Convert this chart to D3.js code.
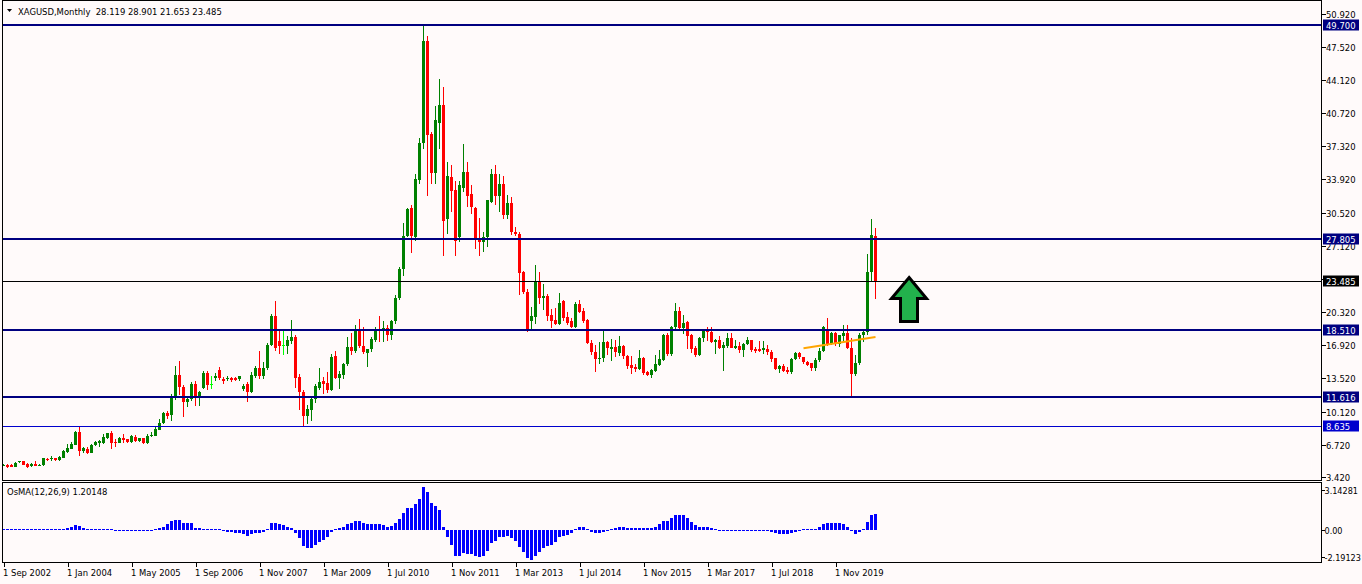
<!DOCTYPE html>
<html><head><meta charset="utf-8">
<script src="https://cdn.jsdelivr.net/npm/d3@7"></script>
<style>
html,body{margin:0;padding:0;background:#fffafa;}
svg{display:block;}
text{font-family:"DejaVu Sans Condensed","DejaVu Sans",sans-serif;font-stretch:condensed;font-size:9.4px;fill:#000;}
</style></head><body>
<svg id="c" width="1362" height="584"></svg>
<script>
// ---------- DATA ----------
const symbolTitle = "XAGUSD,Monthly  28.119 28.901 21.653 23.485";
const indicatorTitle = "OsMA(12,26,9) 1.20148";

const opens = [4.55,4.62,4.66,4.48,4.90,5.03,4.79,4.55,4.72,4.60,4.62,5.30,5.24,5.34,5.17,5.37,5.99,6.33,6.71,8.04,
6.09,6.33,5.92,6.67,6.88,6.88,7.36,7.87,7.02,6.88,7.43,7.26,6.95,7.53,7.12,7.36,6.85,7.63,7.63,8.25,
8.93,9.93,9.76,11.74,13.86,12.60,11.05,11.40,12.94,11.57,12.53,14.07,12.97,13.59,14.37,13.45,13.50,13.55,13.55,13.48,
12.46,12.90,12.08,13.72,14.58,13.72,14.58,16.90,19.95,17.35,16.97,16.87,17.38,17.79,13.69,12.08,9.68,10.30,11.40,12.50,
13.28,13.04,12.35,15.85,13.52,13.86,15.00,16.70,16.30,18.48,16.87,16.10,16.50,17.50,18.50,18.40,18.70,18.00,19.37,21.80,
24.74,28.10,30.97,28.00,33.90,37.68,48.08,38.60,34.60,39.70,41.58,29.87,34.15,32.85,27.99,33.06,34.67,32.44,31.00,27.89,
27.55,27.99,31.59,34.50,32.27,33.47,30.32,31.52,28.57,28.33,24.40,22.42,19.44,19.85,23.54,21.73,22.00,20.00,19.50,19.10,
21.46,19.85,19.44,18.75,21.15,20.46,19.54,17.10,16.20,15.50,15.60,17.30,16.53,16.77,16.12,16.84,15.85,14.92,14.72,14.48,
15.60,14.20,13.86,14.30,14.89,15.40,18.00,16.02,18.82,20.40,18.65,19.34,18.00,16.60,15.95,17.66,18.41,18.24,17.28,17.49,
16.63,16.80,17.66,16.63,16.84,16.43,17.00,17.45,16.53,16.53,16.43,16.53,16.26,15.57,14.48,14.82,14.37,14.20,15.50,16.12,
15.67,15.23,15.09,14.61,15.40,16.29,18.41,17.00,18.17,17.03,17.90,18.17,16.60,13.96,15.09,17.97,18.24,24.47,28.119];

const highs = [4.72,4.70,4.72,4.95,5.10,5.10,4.85,4.85,5.05,4.70,5.40,5.35,5.55,5.40,5.60,6.20,6.75,7.00,8.15,8.49,
6.45,6.45,6.80,7.15,7.20,7.80,7.95,8.15,7.30,7.50,7.80,7.35,7.70,7.70,7.40,7.45,7.80,8.05,8.50,9.35,
10.05,10.20,11.90,14.82,15.33,12.80,11.74,13.10,13.28,12.25,14.30,14.28,13.80,14.10,14.65,13.62,13.80,13.62,13.65,13.80,
12.90,13.20,14.15,14.80,16.29,15.20,17.10,20.10,21.45,18.35,18.35,17.90,19.50,18.00,14.00,12.30,10.75,11.50,12.90,14.55,
13.62,14.20,16.00,16.30,14.30,15.10,17.73,18.17,19.03,19.60,18.80,16.55,17.75,18.75,19.95,19.45,19.00,19.50,22.10,24.90,
29.46,30.95,31.31,34.50,38.19,49.80,48.60,38.80,41.44,44.25,43.39,35.69,35.42,33.74,33.74,37.57,35.69,33.30,31.10,29.94,
28.51,31.80,35.00,35.40,34.50,34.30,32.30,32.10,29.02,28.50,24.50,22.70,20.80,25.15,24.47,23.20,22.18,20.63,20.70,22.28,
21.60,20.36,19.70,21.32,21.60,20.70,19.60,17.50,16.90,17.30,18.58,17.40,17.56,17.45,17.90,16.90,15.90,15.85,15.00,16.43,
15.70,14.30,14.50,15.90,16.43,18.10,18.20,18.90,21.25,20.81,20.00,19.44,18.10,16.80,17.80,18.58,18.75,18.75,17.60,17.90,
17.20,18.20,18.20,17.50,17.30,17.10,17.80,17.50,16.70,17.40,17.40,16.95,16.40,15.60,14.90,15.00,14.70,15.60,16.20,16.20,
15.70,15.30,15.10,15.60,16.60,18.92,19.75,18.30,18.30,18.00,18.99,18.95,17.63,15.90,18.20,18.40,26.28,29.88,28.901];

const lows = [4.50,4.38,4.45,4.45,4.80,4.60,4.30,4.40,4.55,4.50,4.58,5.00,5.00,5.00,5.10,5.35,5.90,6.25,6.65,5.58,
5.82,5.75,5.85,6.60,6.45,6.80,7.30,6.30,6.45,6.85,6.90,6.85,6.90,6.95,7.00,6.75,6.80,7.50,7.60,8.20,
8.85,9.35,9.10,11.30,11.80,9.52,10.54,11.20,10.70,10.65,12.40,12.35,12.40,13.30,13.40,12.95,13.30,13.20,13.30,13.25,
12.20,11.12,12.00,13.60,13.45,13.50,14.40,16.80,16.29,16.00,15.95,16.00,17.00,12.50,10.30,8.49,8.80,9.20,11.00,12.30,
11.91,12.00,12.20,13.50,12.42,13.50,14.80,15.90,16.10,16.60,16.00,14.65,16.20,17.20,17.20,17.20,17.40,17.50,19.10,21.60,
23.99,28.00,26.38,27.60,33.47,37.06,32.27,33.40,33.40,36.99,26.10,28.33,30.63,26.10,27.50,32.68,31.07,30.40,26.80,26.10,
26.52,26.94,31.50,31.30,30.63,29.90,29.90,28.20,28.10,22.07,22.17,18.24,18.58,19.10,21.15,20.53,19.44,18.65,19.00,19.00,
19.44,19.00,18.70,18.65,20.20,19.20,17.00,15.90,14.20,15.00,15.20,15.90,15.33,15.67,15.85,15.50,14.50,13.96,14.20,14.40,
13.90,13.79,13.60,14.20,14.80,15.30,15.80,15.80,18.60,18.50,18.10,16.53,16.12,15.67,15.80,17.20,17.40,17.15,16.02,16.50,
14.30,16.60,16.60,16.50,16.10,15.67,16.90,16.20,16.10,16.20,16.00,15.90,15.20,14.40,14.05,14.20,13.95,14.00,15.40,15.50,
15.00,14.75,14.30,14.30,15.20,16.20,16.80,16.90,16.85,16.70,17.40,16.50,11.616,13.80,14.90,17.20,18.00,23.44,21.653];

const closes = [4.69,4.48,4.48,4.89,5.00,4.66,4.45,4.79,4.55,4.66,5.31,5.17,5.37,5.17,5.48,6.09,6.37,6.78,8.04,6.09,
6.37,5.92,6.74,6.95,7.12,7.46,7.87,6.85,6.88,7.43,7.19,6.95,7.60,7.12,7.36,6.85,7.63,7.73,8.32,8.93,
9.93,9.69,11.74,13.86,12.60,11.12,11.40,12.94,11.57,12.15,14.07,12.83,12.97,13.79,13.52,13.21,13.55,13.35,13.38,13.76,
12.73,12.08,13.86,14.58,13.79,14.58,16.90,19.95,16.60,16.80,16.97,17.45,17.79,13.55,12.08,9.68,10.37,11.40,12.70,13.10,
12.94,12.35,15.67,13.52,13.96,15.00,16.70,16.30,18.48,16.87,16.19,16.50,17.56,18.50,18.40,18.70,18.00,19.37,21.80,24.74,
28.10,30.90,28.10,34.00,37.68,48.08,38.43,34.60,39.97,41.58,29.70,34.32,32.78,27.65,33.30,34.67,32.27,31.07,27.82,27.48,
27.99,31.76,34.50,32.27,33.47,30.32,31.52,28.51,28.33,24.33,22.35,18.58,19.95,23.54,21.73,22.00,19.95,19.44,19.10,21.25,
19.68,19.20,18.75,21.15,20.36,19.44,17.10,16.20,15.50,15.60,17.30,16.60,16.77,16.19,16.84,15.78,14.82,14.58,14.48,15.60,
14.07,13.86,14.37,14.99,15.50,18.00,16.02,18.82,20.40,18.65,19.20,17.90,16.53,15.95,17.66,18.41,18.24,17.21,17.49,16.63,
16.94,17.66,16.63,16.84,16.43,17.00,17.45,16.43,16.29,16.33,16.60,16.19,15.50,14.48,14.82,14.30,14.20,15.50,16.12,15.67,
15.16,14.92,14.61,15.40,16.29,18.75,16.97,18.17,17.14,17.97,18.17,16.60,13.96,15.09,17.97,18.24,24.47,28.23,23.485];

const osma = [0.02,0.01,0.01,0.01,0.02,0.02,0.01,0.01,0.01,0.02,
0.05,0.06,0.06,0.06,0.07,0.10,0.15,0.22,0.36,0.27,
0.15,0.06,0.03,0.03,0.03,0.02,0.02,0.02,-0.04,-0.05,
-0.05,-0.05,-0.06,-0.06,-0.06,-0.05,-0.05,-0.04,0.02,0.12,
0.24,0.41,0.68,0.73,0.73,0.54,0.49,0.49,0.17,0.12,
0.05,0.05,0.04,0.04,0.04,-0.07,-0.12,-0.15,-0.20,-0.20,
-0.32,-0.41,-0.30,-0.25,-0.22,-0.17,0.02,0.49,0.52,0.44,
0.36,0.24,0.12,-0.24,-0.61,-1.14,-1.34,-1.34,-1.10,-0.90,
-0.73,-0.54,-0.17,0.02,0.17,0.24,0.44,0.49,0.68,0.68,
0.54,0.44,0.44,0.44,0.41,0.36,0.24,0.32,0.49,0.80,
1.22,1.58,1.58,1.90,2.26,3.14281,2.75,1.95,1.78,1.46,
0.19,-0.49,-1.10,-1.90,-1.90,-1.70,-1.75,-1.75,-1.90,-1.95,
-1.90,-1.50,-0.97,-0.78,-0.49,-0.49,-0.44,-0.61,-0.78,-1.22,
-1.58,-2.07,-2.19123,-1.90,-1.58,-1.34,-1.17,-1.10,-0.85,-0.54,
-0.44,-0.36,-0.24,0.07,0.24,0.24,0.02,-0.17,-0.24,-0.24,
-0.17,-0.07,0.05,0.12,0.24,0.24,0.17,0.12,0.12,0.17,
0.12,0.12,0.12,0.24,0.41,0.68,0.68,0.85,1.10,1.10,
1.10,0.90,0.56,0.36,0.24,0.24,0.24,0.12,0.05,-0.04,
-0.05,-0.05,-0.05,-0.06,-0.06,-0.06,-0.06,-0.06,-0.05,-0.06,
-0.06,-0.07,-0.12,-0.19,-0.29,-0.29,-0.29,-0.24,-0.12,-0.07,
0.04,0.04,0.04,0.05,0.24,0.41,0.49,0.54,0.49,0.49,
0.41,0.24,-0.05,-0.29,-0.12,0.07,0.61,1.12,1.20148];

const dateLabels = ["1 Sep 2002","1 Jan 2004","1 May 2005","1 Sep 2006","1 Nov 2007","1 Mar 2009","1 Jul 2010",
  "1 Nov 2011","1 Mar 2013","1 Jul 2014","1 Nov 2015","1 Mar 2017","1 Jul 2018","1 Nov 2019"];
const dateLabelStep = 16; // bars between date labels

const priceTicks = [50.92,47.52,44.12,40.72,37.32,33.92,30.52,27.12,23.72,20.32,16.92,13.52,10.12,6.72,3.42];
const osmaTicks = [3.14281,0,-2.19123];
const osmaTickText = ["3.14281","0.00","-2.19123"];

const levelPrices = [49.700,27.805,18.510,11.616,8.635];
const levelText = ["49.700","27.805","18.510","11.616","8.635"];
const bidPrice = 23.485;

const trendBars = [200,218];
const trendPrices = [16.60,17.76];

// arrow annotation (bar index, price)
const arrowBars =   [226.4,230.75,228.5,228.5,224.25,224.25,222.0];
const arrowPrices = [23.86,21.71,21.71,19.35,19.35,21.71,21.71];

// ---------- DRAW ----------
const W=1362,H=584;
const svg=d3.select('#c');
svg.append('rect').attr('width',W).attr('height',H).attr('fill','#fffafa');

const axisX=1321.5;
const x=d3.scaleLinear().domain([0,1]).range([3.5,7.5]);
const y=d3.scaleLinear().domain([3.42,50.92]).range([476.9,13.6]);
const yo=d3.scaleLinear().domain([-2.19123,3.14281]).range([560,487]);

const main=svg.append('g').attr('shape-rendering','crispEdges');
const n=closes.length;
const idx=d3.range(n);
function col(i){ if(closes[i]>opens[i]) return '#008000'; if(closes[i]<opens[i]) return '#ff0000'; return '#00ff00'; }

// wicks
main.selectAll('rect.w').data(idx).join('rect').attr('class','w')
  .attr('x',i=>Math.round(x(i)-0.5)).attr('width',1)
  .attr('y',i=>Math.round(y(highs[i])))
  .attr('height',i=>Math.max(1,Math.round(y(lows[i]))-Math.round(y(highs[i]))))
  .attr('fill',col);
// bodies
main.selectAll('rect.b').data(idx).join('rect').attr('class','b')
  .attr('x',i=>Math.round(x(i)-1.5)).attr('width',3)
  .attr('y',i=>Math.round(y(Math.max(opens[i],closes[i]))))
  .attr('height',i=>Math.max(1,Math.round(y(Math.min(opens[i],closes[i])))-Math.round(y(Math.max(opens[i],closes[i])))))
  .attr('fill',col);

// level lines
const levelColors=['#000080','#000080','#000080','#000080','#0000cd'];
const levelWidths=[2,2,2,2,1];
levelPrices.forEach((p,k)=>{
  const yy=Math.round(y(p))+(levelWidths[k]===1?0.5:0);
  main.append('line').attr('x1',2).attr('x2',axisX).attr('y1',yy).attr('y2',yy)
    .attr('stroke',levelColors[k]).attr('stroke-width',levelWidths[k]);
});
{
  const yy=Math.round(y(bidPrice))+0.5;
  main.append('line').attr('x1',2).attr('x2',axisX).attr('y1',yy).attr('y2',yy).attr('stroke','#000').attr('stroke-width',1);
}
// trend line (orange)
svg.append('line').attr('x1',x(trendBars[0])).attr('x2',x(trendBars[1]))
  .attr('y1',y(trendPrices[0])).attr('y2',y(trendPrices[1]))
  .attr('stroke','#ffa500').attr('stroke-width',2);

// arrow
svg.append('polygon')
  .attr('points',arrowBars.map((b,k)=>x(b)+','+y(arrowPrices[k])).join(' '))
  .attr('fill','#22b14c').attr('stroke','#000').attr('stroke-width',3).attr('stroke-linejoin','miter');

// OsMA histogram
const sub=svg.append('g').attr('shape-rendering','crispEdges');
const z=Math.round(yo(0));
sub.selectAll('rect').data(idx).join('rect')
  .attr('x',i=>Math.round(x(i)-1.5)).attr('width',3)
  .attr('y',i=>osma[i]>=0?Math.min(z-1,Math.round(yo(osma[i]))):z)
  .attr('height',i=>osma[i]>=0?Math.max(1,z-Math.round(yo(osma[i]))):Math.max(1,Math.round(yo(osma[i]))-z))
  .attr('fill','#0000ff');

// frames
const fr=svg.append('g').attr('shape-rendering','crispEdges').attr('fill','none').attr('stroke','#000');
fr.append('rect').attr('x',2.5).attr('y',0.5).attr('width',axisX-2.5).attr('height',480);
fr.append('rect').attr('x',2.5).attr('y',482.5).attr('width',axisX-2.5).attr('height',80);

// price axis ticks & labels
const ax=svg.append('g');
priceTicks.forEach(p=>{
  const yy=Math.round(y(p))+0.5;
  ax.append('line').attr('x1',axisX).attr('x2',axisX+4).attr('y1',yy).attr('y2',yy).attr('stroke','#000').attr('shape-rendering','crispEdges');
  ax.append('text').attr('x',1326).attr('y',yy+3.5).text(d3.format('.3f')(p));
});
// level boxes
const boxColors=['#000080','#000080','#000080','#000080','#0000cd'];
levelPrices.forEach((p,k)=>{
  const yy=Math.round(y(p));
  ax.append('rect').attr('x',1323).attr('y',yy-5.5).attr('width',36).attr('height',11).attr('fill',boxColors[k]);
  ax.append('text').attr('x',1326).attr('y',yy+3.5).style('fill','#fff').text(levelText[k]);
});
{
  const yy=Math.round(y(bidPrice));
  ax.append('rect').attr('x',1323).attr('y',yy-5.5).attr('width',36).attr('height',11).attr('fill','#000');
  ax.append('text').attr('x',1326).attr('y',yy+3.5).style('fill','#fff').text(d3.format('.3f')(bidPrice));
}
// osma axis
const osmaLabelY=[490,530,556.5];
osmaTicks.forEach((v,k)=>{
  const yy=Math.round(osmaLabelY[k])+0.5;
  ax.append('line').attr('x1',axisX).attr('x2',axisX+3).attr('y1',yy).attr('y2',yy).attr('stroke','#000').attr('shape-rendering','crispEdges');
  ax.append('text').attr('x',1324.5).attr('y',yy+3.5).style('font-size','9px').text(osmaTickText[k]);
});

// date axis
dateLabels.forEach((t,k)=>{
  const xx=Math.round(x(k*dateLabelStep))+0.5;
  ax.append('line').attr('x1',xx).attr('x2',xx).attr('y1',563).attr('y2',567).attr('stroke','#000').attr('shape-rendering','crispEdges');
  ax.append('text').attr('x',xx-1.5).attr('y',576).text(t);
});

// titles
svg.append('path').attr('d','M7,9 L12,9 L9.5,12 Z').attr('fill','#000');
svg.append('text').attr('x',18).attr('y',14.5).text(symbolTitle).attr('xml:space','preserve').style('white-space','pre');
svg.append('text').attr('x',7).attr('y',495).text(indicatorTitle);
</script></body></html>
